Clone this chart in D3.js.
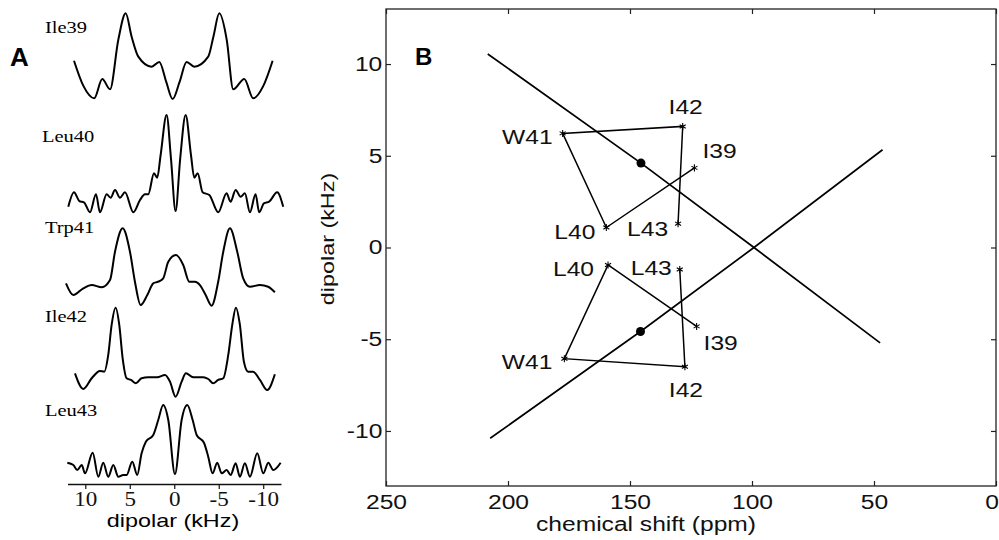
<!DOCTYPE html>
<html>
<head>
<meta charset="utf-8">
<script src="https://cdn.jsdelivr.net/npm/d3@7"></script>
<style>
  body { margin: 0; background: #fff; }
  svg { display: block; }
</style>
</head>
<body>
<div id="chart"></div>
<script>
// ---- data: panel A spectra, [dipolar kHz, relative intensity]
var traceNames = ["Ile39", "Leu40", "Trp41", "Ile42", "Leu43"];

var ile39 = [[11.27,0.447],[10.2,0.15],[9.0,0.008],[8.09,0.233],[7.22,0.113],[6.29,0.69],[5.46,1.0],
  [4.79,0.727],[4.04,0.494],[2.54,0.377],[1.68,0.432],[0.9,0.2],[0.18,0],[-0.6,0.2],[-1.39,0.432],
  [-2.25,0.377],[-3.82,0.494],[-4.4,0.727],[-5.06,1.0],[-5.9,0.69],[-6.63,0.113],[-7.87,0.233],
  [-8.88,0.008],[-10.0,0.15],[-11.06,0.447]];

var leu40 = [[11.91,0.058],[11.27,0.206],[10.67,0.116],[10.15,0.103],[9.47,0],[8.8,0.185],[8.35,0],
  [7.6,0.185],[7.15,0.15],[6.66,0.229],[6.1,0.15],[5.54,0.206],[4.6,0],[3.85,0.126],[3.29,0.185],
  [2.92,0.185],[2.28,0.401],[1.91,0.356],[1.53,0.589],[0.86,1],[0.37,0.555],[-0.15,0.013],
  [-0.67,0.555],[-1.28,1],[-1.88,0.589],[-2.25,0.356],[-2.63,0.401],[-3.19,0.206],[-3.94,0.178],
  [-4.95,0],[-5.88,0.195],[-6.33,0.109],[-6.9,0.229],[-7.46,0.16],[-7.94,0.195],[-8.51,0],
  [-9.14,0.185],[-9.55,0],[-10.08,0.092],[-10.67,0.109],[-11.57,0.206],[-12.25,0.058]];

var trp41 = [[12.17,0.289],[11.35,0.138],[10.22,0.225],[9.28,0.267],[8.16,0.238],[7.22,0.332],
  [6.66,0.698],[5.8,1],[4.98,0.698],[4.42,0.31],[3.78,0.009],[3.03,0.138],[2.36,0.289],[1.8,0.31],
  [1.24,0.354],[0.67,0.568],[-0.19,0.655],[-1.01,0.526],[-1.69,0.31],[-2.33,0.31],[-2.89,0.267],
  [-3.53,0.138],[-4.2,0],[-4.94,0.31],[-5.51,0.698],[-6.26,1],[-7.08,0.698],[-7.75,0.354],
  [-8.51,0.245],[-9.63,0.267],[-10.56,0.245],[-11.31,0.173]];

var ile42 = [[11.16,0.263],[10.22,0.087],[9.28,0.207],[8.35,0.289],[7.87,0.281],[7.42,0.469],
  [7.04,0.806],[6.59,1],[6.18,0.806],[5.8,0.431],[5.35,0.207],[4.87,0.188],[4.3,0.151],[3.67,0.207],
  [2.92,0.218],[1.91,0.218],[1.04,0.244],[0.48,0.169],[-0.15,0],[-0.83,0.169],[-1.31,0.263],
  [-2.13,0.218],[-3.26,0.218],[-3.82,0.199],[-4.38,0.151],[-4.94,0.188],[-5.51,0.207],[-6.07,0.469],
  [-6.52,0.806],[-6.93,1],[-7.38,0.806],[-7.83,0.393],[-8.31,0.281],[-8.87,0.281],[-9.63,0.188],
  [-10.45,0.075],[-11.31,0.252]];

var leu43 = [[12.02,0.195],[11.34,0.163],[10.9,0.093],[10.4,0.163],[10.03,0.047],[9.17,0.335],
  [8.54,0],[7.98,0.195],[7.42,0],[6.85,0.163],[6.29,0],[5.73,0.024],[5.35,0.024],[4.72,0.209],
  [4.16,0.024],[3.67,0.326],[3.19,0.488],[2.36,0.582],[1.8,0.791],[1.24,1],[0.67,0.791],
  [-0.08,0.038],[-0.83,0.791],[-1.46,1],[-2.07,0.791],[-2.52,0.582],[-3.34,0.474],[-3.82,0.279],
  [-4.31,0.047],[-4.83,0.195],[-5.33,0.047],[-5.89,0.093],[-6.34,0.024],[-6.9,0.187],[-7.38,0],
  [-7.94,0.187],[-8.51,0],[-9.33,0.326],[-10.01,0.047],[-10.57,0.195],[-11.13,0.093],[-11.96,0.195]];

var traces = [ile39, leu40, trp41, ile42, leu43];
var xTicksA = [10, 5, 0, -5, -10];

// ---- data: panel B (chemical shift ppm, dipolar kHz)
var fitShift1 = [208.3, 145.5, 99.2, 47.5];
var fitDip1 = [10.55, 4.6, 0, -5.2];
var fitShift2 = [207.3, 145.7, 99.2, 46.5];
var fitDip2 = [-10.4, -4.58, 0, 5.33];

var residues = ["I39", "L40", "W41", "I42", "L43"];
var upperShift = [123.6, 159.7, 177.6, 128.4, 130.3];
var upperDip = [4.34, 1.09, 6.22, 6.6, 1.3];
var lowerShift = [122.7, 159.0, 176.9, 127.5, 129.6];
var lowerDip = [-4.3, -0.95, -6.06, -6.5, -1.2];

var dotShift = [145.5, 145.7];
var dotDip = [4.6, -4.58];

var xTicksB = [250, 200, 150, 100, 50, 0];
var yTicksB = [-10, -5, 0, 5, 10];

// ---- setup
var sans = "'Liberation Sans', Arial, Helvetica, sans-serif";
var serif = "'Liberation Serif', 'Times New Roman', serif";
var stretch = "scale(1.23,1)";

var svg = d3.select("#chart")
  .append("svg")
  .attr("width", 999)
  .attr("height", 540);

// ================= panel A =================
var xA = d3.scaleLinear().domain([12, -12]).range([67.5, 281]);
var bandsA = [[99, 13.3], [212.3, 115], [305.7, 228.3], [396.7, 307.7], [476.7, 405]];
var labelPosA = [[45, 33], [42, 141.5], [45, 233], [45, 322], [45, 416]];

traces.forEach(function(tr, i) {
  var yA = d3.scaleLinear().domain([0, 1]).range(bandsA[i]);
  var line = d3.line()
    .x(d => xA(d[0]))
    .y(d => yA(d[1]))
    .curve(d3.curveMonotoneX);
  svg.append("path")
    .datum(tr)
    .attr("d", line)
    .attr("fill", "none")
    .attr("stroke", "#000")
    .attr("stroke-width", 2)
    .attr("stroke-linejoin", "round");

  svg.append("text")
    .attr("transform", `translate(${labelPosA[i][0]},${labelPosA[i][1]}) scale(1.28,1)`)
    .attr("font-family", serif)
    .attr("font-size", 16)
    .text(traceNames[i]);
});

var axisA = d3.axisBottom(xA)
  .tickValues(xTicksA)
  .tickSize(5)
  .tickSizeOuter(0)
  .tickPadding(1)
  .tickFormat(d => String(d));

var gA = svg.append("g")
  .attr("transform", "translate(0,484)")
  .call(axisA);
gA.select(".domain").attr("stroke", "#111").attr("stroke-width", 1.6);
gA.selectAll(".tick line").attr("stroke", "#111").attr("stroke-width", 1.2);
gA.selectAll(".tick text")
  .attr("font-family", serif)
  .attr("font-size", 22)
  .attr("fill", "#111")
  .attr("transform", "scale(1.05,1)");

svg.append("text")
  .attr("transform", `translate(173,527) ${stretch}`)
  .attr("text-anchor", "middle")
  .attr("font-family", sans)
  .attr("font-size", 19)
  .text("dipolar (kHz)");

svg.append("text")
  .attr("x", 10)
  .attr("y", 66)
  .attr("font-family", sans)
  .attr("font-weight", "bold")
  .attr("font-size", 26)
  .text("A");

// ================= panel B =================
var xB = d3.scaleLinear().domain([250, 0]).range([386, 996]);
var yB = d3.scaleLinear().domain([-13, 13]).range([486, 9]);

svg.append("rect")
  .attr("x", xB(250))
  .attr("y", yB(13))
  .attr("width", xB(0) - xB(250))
  .attr("height", yB(-13) - yB(13))
  .attr("fill", "none")
  .attr("stroke", "#222")
  .attr("stroke-width", 1.3);

function styleAxis(g) {
  g.select(".domain").remove();
  g.selectAll(".tick line").attr("stroke", "#222").attr("stroke-width", 1.2);
  g.selectAll(".tick text")
    .attr("font-family", sans)
    .attr("font-size", 20)
    .attr("fill", "#111")
    .attr("transform", stretch);
}

var gxB = svg.append("g")
  .attr("transform", `translate(0,${yB(-13)})`)
  .call(d3.axisBottom(xB).tickValues(xTicksB).tickSize(-5).tickPadding(9).tickFormat(d => String(d)))
  .call(styleAxis);
// keep the last label inside the page edge
gxB.selectAll(".tick text").filter(d => d === 0)
  .attr("text-anchor", "end")
  .attr("x", 2);

svg.append("g")
  .attr("transform", `translate(${xB(250)},0)`)
  .call(d3.axisLeft(yB).tickValues(yTicksB).tickSize(-5).tickPadding(3).tickFormat(d => String(d)))
  .call(styleAxis);

svg.append("g")
  .attr("transform", `translate(0,${yB(13)})`)
  .call(d3.axisTop(xB).tickValues(xTicksB).tickSize(-5).tickFormat(""))
  .call(styleAxis);

svg.append("g")
  .attr("transform", `translate(${xB(0)},0)`)
  .call(d3.axisRight(yB).tickValues(yTicksB).tickSize(-5).tickFormat(""))
  .call(styleAxis);

// fitted wheel lines
var lineB = d3.line()
  .x(d => xB(d[0]))
  .y(d => yB(d[1]));

[[fitShift1, fitDip1], [fitShift2, fitDip2]].forEach(function(f) {
  svg.append("path")
    .datum(d3.zip(f[0], f[1]))
    .attr("d", lineB)
    .attr("fill", "none")
    .attr("stroke", "#000")
    .attr("stroke-width", 1.7);
});

// residue polygons
var upperPts = d3.zip(upperShift, upperDip);
var lowerPts = d3.zip(lowerShift, lowerDip);

[upperPts, lowerPts].forEach(function(pts) {
  svg.append("path")
    .datum(pts)
    .attr("d", lineB)
    .attr("fill", "none")
    .attr("stroke", "#000")
    .attr("stroke-width", 1.5);

  svg.selectAll(null)
    .data(pts)
    .enter()
    .append("path")
    .attr("transform", d => `translate(${xB(d[0])},${yB(d[1])})`)
    .attr("d", d3.symbol().type(d3.symbolAsterisk).size(34))
    .attr("fill", "none")
    .attr("stroke", "#000")
    .attr("stroke-width", 1.1);
});

svg.selectAll(null)
  .data(d3.zip(dotShift, dotDip))
  .enter()
  .append("circle")
  .attr("cx", d => xB(d[0]))
  .attr("cy", d => yB(d[1]))
  .attr("r", 4.5)
  .attr("fill", "#000");

// residue labels: [anchor, dx, dy]
var upperOffsets = [["start", 8, -17], ["end", -11, 4], ["end", -10, 3], ["middle", 3, -20], ["end", -10, 5]];
var lowerOffsets = [["start", 7, 16], ["end", -14, 4], ["end", -12, 3], ["middle", 1, 23], ["end", -8, -2]];

function addLabels(pts, offs) {
  pts.forEach(function(p, i) {
    svg.append("text")
      .attr("transform", `translate(${xB(p[0]) + offs[i][1]},${yB(p[1]) + offs[i][2]}) ${stretch}`)
      .attr("text-anchor", offs[i][0])
      .attr("dy", "0.36em")
      .attr("font-family", sans)
      .attr("font-size", 20)
      .attr("fill", "#111")
      .text(residues[i]);
  });
}
addLabels(upperPts, upperOffsets);
addLabels(lowerPts, lowerOffsets);

// axis titles
svg.append("text")
  .attr("transform", `translate(646,531) ${stretch}`)
  .attr("text-anchor", "middle")
  .attr("font-family", sans)
  .attr("font-size", 20)
  .attr("fill", "#111")
  .text("chemical shift (ppm)");

svg.append("text")
  .attr("transform", `translate(334,239) rotate(-90) ${stretch}`)
  .attr("text-anchor", "middle")
  .attr("font-family", sans)
  .attr("font-size", 19)
  .attr("fill", "#111")
  .text("dipolar (kHz)");

svg.append("text")
  .attr("x", 415)
  .attr("y", 65)
  .attr("font-family", sans)
  .attr("font-weight", "bold")
  .attr("font-size", 24)
  .text("B");
</script>
</body>
</html>
